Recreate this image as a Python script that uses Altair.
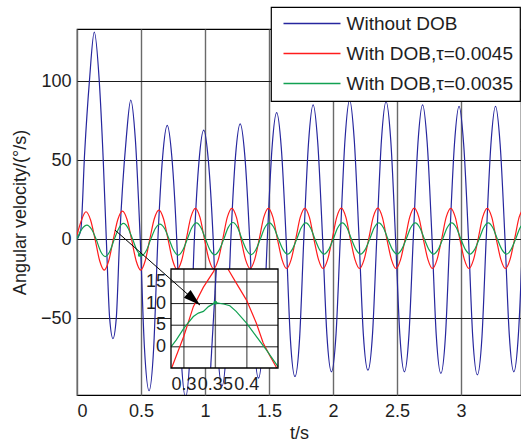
import altair as alt
import pandas as pd

SERIES = ["Without DOB", "With DOB,τ=0.0045", "With DOB,τ=0.0035"]
COLORS = ["#26269e", "#ff1c1c", "#12a152"]

X_DOMAIN = [0, 3.469]
Y_DOMAIN = [-98.7, 133]
X_TICKS = [0, 0.5, 1, 1.5, 2, 2.5, 3]
Y_TICKS = [-50, 0, 50, 100]

# ---- main series (time in s, angular velocity in deg/s) ----
blue_t = [0.000, 0.030, 0.060, 0.097, 0.135, 0.174, 0.205, 0.229, 0.255, 0.281, 0.307, 0.333,
          0.384, 0.420, 0.456, 0.494, 0.527, 0.563, 0.599, 0.632,
          0.669, 0.705, 0.741, 0.779, 0.812, 0.848, 0.884, 0.917,
          0.954, 0.990, 1.026, 1.064, 1.097, 1.133, 1.169, 1.202,
          1.239, 1.275, 1.311, 1.349, 1.382, 1.418, 1.454, 1.487,
          1.524, 1.560, 1.596, 1.634, 1.667, 1.703, 1.739, 1.772,
          1.809, 1.845, 1.881, 1.919, 1.952, 1.988, 2.024, 2.057,
          2.094, 2.130, 2.166, 2.204, 2.237, 2.273, 2.309, 2.342,
          2.379, 2.415, 2.451, 2.489, 2.522, 2.558, 2.594, 2.627,
          2.664, 2.700, 2.736, 2.774, 2.807, 2.843, 2.879, 2.912,
          2.949, 2.985, 3.021, 3.059, 3.092, 3.128, 3.164, 3.197,
          3.234, 3.270, 3.306, 3.344, 3.377, 3.413, 3.449, 3.482]
blue_v = [0, 6, 55, 100, 131, 100, 50, 0, -50, -63, -50, 0,
          63, 88, 63, 0, -69, -96, -69, 0,
          52, 72, 52, 0, -72, -100, -72, 0,
          50, 69, 50, 0, -67, -93, -67, 0,
          53, 73, 53, 0, -63, -88, -63, 0,
          58, 80, 58, 0, -63, -87, -63, 0,
          61, 85, 61, 0, -60, -84, -60, 0,
          63, 88, 63, 0, -60, -83, -60, 0,
          63, 87, 63, 0, -60, -84, -60, 0,
          61, 85, 61, 0, -61, -85, -61, 0,
          60, 84, 60, 0, -62, -86, -62, 0,
          60, 84, 60, 0, -60, -84, -60, 0]

red_t = [0.000, 0.035,
         0.070, 0.106, 0.141, 0.177, 0.2125, 0.248, 0.284, 0.319,
         0.355, 0.391, 0.426, 0.462, 0.4975, 0.533, 0.569, 0.604,
         0.640, 0.676, 0.711, 0.747, 0.7825, 0.818, 0.854, 0.889,
         0.925, 0.961, 0.996, 1.032, 1.0675, 1.103, 1.139, 1.174,
         1.210, 1.246, 1.281, 1.317, 1.3525, 1.388, 1.424, 1.459,
         1.495, 1.531, 1.566, 1.602, 1.6375, 1.673, 1.709, 1.744,
         1.780, 1.816, 1.851, 1.887, 1.9225, 1.958, 1.994, 2.029,
         2.065, 2.101, 2.136, 2.172, 2.2075, 2.243, 2.279, 2.314,
         2.350, 2.386, 2.421, 2.457, 2.4925, 2.528, 2.564, 2.599,
         2.635, 2.671, 2.706, 2.742, 2.7775, 2.813, 2.849, 2.884,
         2.920, 2.956, 2.991, 3.027, 3.0625, 3.098, 3.134, 3.169,
         3.205, 3.241, 3.276, 3.312, 3.3475, 3.383, 3.419, 3.454,
         3.490]
red_v = [2.5, 12.0,
         17.3, 12.1, 0, -13.7, -19.6, -13.7, 0, 12.4,
         17.7, 12.4, 0, -13.7, -19.6, -13.7, 0, 12.9,
         18.4, 12.9, 0, -13.4, -19.2, -13.4, 0, 13.7,
         19.5, 13.7, 0, -13.2, -18.8, -13.2, 0, 13.7,
         19.5, 13.7, 0, -13.0, -18.6, -13.0, 0, 13.7,
         19.5, 13.7, 0, -13.0, -18.6, -13.0, 0, 13.7,
         19.5, 13.7, 0, -13.0, -18.6, -13.0, 0, 13.7,
         19.6, 13.7, 0, -13.0, -18.6, -13.0, 0, 13.7,
         19.6, 13.7, 0, -13.0, -18.6, -13.0, 0, 13.7,
         19.6, 13.7, 0, -13.0, -18.6, -13.0, 0, 13.7,
         19.5, 13.7, 0, -13.0, -18.6, -13.0, 0, 13.7,
         19.5, 13.7, 0, -13.0, -18.6, -13.0, 0, 13.7,
         19.5]

green_t = [0.000, 0.039,
           0.078, 0.114, 0.149, 0.185, 0.2205, 0.256, 0.292, 0.327,
           0.363, 0.399, 0.434, 0.470, 0.5055, 0.541, 0.577, 0.612,
           0.648, 0.684, 0.719, 0.755, 0.7905, 0.826, 0.862, 0.897,
           0.933, 0.969, 1.004, 1.040, 1.0755, 1.111, 1.147, 1.182,
           1.218, 1.254, 1.289, 1.325, 1.3605, 1.396, 1.432, 1.467,
           1.503, 1.539, 1.574, 1.610, 1.6455, 1.681, 1.717, 1.752,
           1.788, 1.824, 1.859, 1.895, 1.9305, 1.966, 2.002, 2.037,
           2.073, 2.109, 2.144, 2.180, 2.2155, 2.251, 2.287, 2.322,
           2.358, 2.394, 2.429, 2.465, 2.5005, 2.536, 2.572, 2.607,
           2.643, 2.679, 2.714, 2.750, 2.7855, 2.821, 2.857, 2.892,
           2.928, 2.964, 2.999, 3.035, 3.0705, 3.106, 3.142, 3.177,
           3.213, 3.249, 3.284, 3.320, 3.3555, 3.391, 3.427, 3.462,
           3.498]
green_v = [0, 6.5,
           8.9, 6.2, 0, -7.8, -11.1, -7.8, 0, 6.9,
           9.9, 6.9, 0, -7.4, -10.5, -7.4, 0, 6.7,
           9.5, 6.7, 0, -7.1, -10.2, -7.1, 0, 7.2,
           10.3, 7.2, 0, -7.0, -10.0, -7.0, 0, 7.4,
           10.5, 7.4, 0, -6.9, -9.8, -6.9, 0, 7.2,
           10.3, 7.2, 0, -6.7, -9.6, -6.7, 0, 7.2,
           10.3, 7.2, 0, -6.7, -9.5, -6.7, 0, 7.2,
           10.3, 7.2, 0, -6.7, -9.5, -6.7, 0, 7.2,
           10.3, 7.2, 0, -6.7, -9.5, -6.7, 0, 7.2,
           10.3, 7.2, 0, -6.7, -9.5, -6.7, 0, 7.2,
           10.3, 7.2, 0, -6.7, -9.5, -6.7, 0, 7.2,
           10.3, 7.2, 0, -6.7, -9.5, -6.7, 0, 7.2,
           10.3]

# data-tip marker on the green curve
tip_t = [0.49]
tip_v = [-10.0]

# ---- inset (zoom of 0.28..0.45 s) ----
INSET_X = [0.2795, 0.4495]
INSET_Y = [-4.9, 18]
INSET_XTICKS = [0.3, 0.35, 0.4]
INSET_YTICKS = [0, 5, 10, 15]

in_blue_t = [0.3425, 0.3515]
in_blue_v = [-4.9, 18.0]
in_red_t = [0.2805, 0.300, 0.315, 0.331, 0.347, 0.349,
            0.370, 0.383, 0.3995, 0.415, 0.426, 0.437, 0.4475]
in_red_v = [-4.9, 2.5, 9.3, 13.8, 17.4, 18.0,
            18.0, 14.8, 10.8, 5.5, 0.9, -2.2, -4.9]
in_red_seg = [1, 1, 1, 1, 1, 1, 2, 2, 2, 2, 2, 2, 2]
in_green_t = [0.2795, 0.288, 0.300, 0.315, 0.323, 0.331, 0.339, 0.350, 0.363,
              0.373, 0.383, 0.3995, 0.415, 0.431, 0.442, 0.4495]
in_green_v = [0.0, 1.6, 4.3, 7.0, 7.8, 8.2, 9.3, 10.2, 9.9,
              9.5, 8.2, 5.5, 2.4, -0.7, -3.0, -4.6]
in_tip_t = [0.350]
in_tip_v = [10.2]

# ---- arrow annotation (main data coords) ----
arrow_t0, arrow_v0 = [0.297], [5.7]
arrow_t1, arrow_v1 = [0.961], [-41.8]

FONT = "Liberation Sans"
TXT = "#1e1e1e"

# ---------------- main panel ----------------
def sdf(t, v, name):
    return pd.DataFrame({"t": t, "v": v, "s": name})

x_main = alt.X("t:Q", scale=alt.Scale(domain=X_DOMAIN, nice=False, zero=False),
               axis=alt.Axis(values=X_TICKS, format="~g", title="t/s", grid=True,
                             gridColor="#6a6a6a", gridWidth=1.4,
                             labelPadding=7, titleY=38, titleBaseline="middle"))
y_main = alt.Y("v:Q", scale=alt.Scale(domain=Y_DOMAIN, nice=False, zero=False),
               axis=alt.Axis(values=Y_TICKS, format="d", title="Angular velocity/(°/s)",
                             grid=True, gridColor="#1a1a1a", gridWidth=1,
                             labelPadding=6, titleX=-57, titleY=183,
                             titleBaseline="middle", titleAlign="center"))
color = alt.Color("s:N", scale=alt.Scale(domain=SERIES, range=COLORS),
                  legend=alt.Legend(title=None, orient="none", legendX=194, legendY=-22))

def main_line(df):
    return alt.Chart(df).mark_line(clip=True, strokeWidth=1.2, interpolate="monotone").encode(
        x=x_main, y=y_main, color=color)

main = alt.layer(
    main_line(sdf(blue_t, blue_v, SERIES[0])),
    main_line(sdf(red_t, red_v, SERIES[1])),
    main_line(sdf(green_t, green_v, SERIES[2])),
    alt.Chart(pd.DataFrame({"t": tip_t, "v": tip_v})).mark_point(
        filled=True, size=14, color=COLORS[2], opacity=1).encode(x=x_main, y=y_main),
)

# ---------------- inset ----------------
ix_scale = alt.Scale(domain=INSET_X, range=[94, 201], nice=False, zero=False)
iy_scale = alt.Scale(domain=INSET_Y, range=[339, 240], nice=False, zero=False)

def ix(f):
    return alt.X(f, type="quantitative", scale=ix_scale, axis=None)

def iy(f):
    return alt.Y(f, type="quantitative", scale=iy_scale, axis=None)

box_df = pd.DataFrame({"x0": [INSET_X[0]], "x1": [INSET_X[1]],
                       "y0": [INSET_Y[0]], "y1": [INSET_Y[1]]})
vgrid_df = pd.DataFrame({"t": INSET_XTICKS, "y0": INSET_Y[0], "y1": INSET_Y[1]})
hgrid_df = pd.DataFrame({"v": INSET_YTICKS, "x0": INSET_X[0], "x1": INSET_X[1]})
xlab_df = pd.DataFrame({"t": INSET_XTICKS, "y0": INSET_Y[0]})
ylab_df = pd.DataFrame({"v": INSET_YTICKS, "x0": INSET_X[0]})

in_color = alt.Color("s:N", scale=alt.Scale(domain=SERIES, range=COLORS), legend=None)

inset = alt.layer(
    alt.Chart(box_df).mark_rect(fill="white", stroke=None).encode(
        x=ix("x0"), x2="x1", y=iy("y0"), y2="y1"),
    alt.Chart(vgrid_df).mark_rule(color="#6a6a6a", strokeWidth=1.4).encode(
        x=ix("t"), y=iy("y0"), y2="y1"),
    alt.Chart(hgrid_df).mark_rule(color="#1a1a1a", strokeWidth=1).encode(
        y=iy("v"), x=ix("x0"), x2="x1"),
    alt.Chart(sdf(in_blue_t, in_blue_v, SERIES[0])).mark_line(strokeWidth=1.2).encode(
        x=ix("t"), y=iy("v"), color=in_color),
    alt.Chart(pd.DataFrame({"t": in_red_t, "v": in_red_v, "g": in_red_seg, "s": SERIES[1]})
              ).mark_line(strokeWidth=1.2).encode(
        x=ix("t"), y=iy("v"), color=in_color, detail="g:N"),
    alt.Chart(sdf(in_green_t, in_green_v, SERIES[2])).mark_line(strokeWidth=1.2).encode(
        x=ix("t"), y=iy("v"), color=in_color),
    alt.Chart(pd.DataFrame({"t": in_tip_t, "v": in_tip_v})).mark_point(
        filled=True, size=14, color=COLORS[2], opacity=1).encode(x=ix("t"), y=iy("v")),
    alt.Chart(box_df).mark_rect(fillOpacity=0, stroke="black", strokeWidth=1.3).encode(
        x=ix("x0"), x2="x1", y=iy("y0"), y2="y1"),
    alt.Chart(xlab_df).mark_text(baseline="top", dy=8, fontSize=18, font=FONT, color=TXT).encode(
        x=ix("t"), y=iy("y0"), text=alt.Text("t:Q", format="~g")),
    alt.Chart(ylab_df).mark_text(align="right", baseline="middle", dx=-5, fontSize=18,
                                 font=FONT, color=TXT).encode(
        x=ix("x0"), y=iy("v"), text=alt.Text("v:Q", format="~g")),
)

# ---------------- arrow ----------------
ax_scale = alt.Scale(domain=X_DOMAIN, nice=False, zero=False)
ay_scale = alt.Scale(domain=Y_DOMAIN, nice=False, zero=False)
arrow_df = pd.DataFrame({"t0": arrow_t0, "v0": arrow_v0, "t1": arrow_t1, "v1": arrow_v1})
arrow = alt.layer(
    alt.Chart(arrow_df).mark_rule(color="black", strokeWidth=1).encode(
        x=alt.X("t0:Q", scale=ax_scale, axis=None), y=alt.Y("v0:Q", scale=ay_scale, axis=None),
        x2="t1", y2="v1"),
    alt.Chart(arrow_df).mark_point(shape="M0,0L-2,-0.6L-2,0.6Z", filled=True, size=289,
                                   angle=41.4, color="black", opacity=1).encode(
        x=alt.X("t1:Q", scale=ax_scale, axis=None), y=alt.Y("v1:Q", scale=ay_scale, axis=None)),
)

chart = alt.layer(main, inset, arrow).resolve_scale(
    x="independent", y="independent"
).properties(
    width=444, height=366,
    autosize=alt.AutoSizeParams(type="none"),
    padding={"left": 77, "top": 29, "right": 0, "bottom": 48},
).configure_view(
    stroke="black", strokeWidth=1.2
).configure_axis(
    ticks=False, domain=False, labelFont=FONT, labelFontSize=18, labelColor=TXT,
    titleFont=FONT, titleFontSize=18, titleFontWeight="normal", titleColor=TXT,
).configure_legend(
    labelFont=FONT, labelFontSize=19, labelColor=TXT, labelLimit=400,
    fillColor="white", strokeColor="black", strokeWidth=1.2, cornerRadius=0,
    padding=7, symbolType="M-9.5,0L9.5,0", symbolSize=36, symbolStrokeWidth=1.3,
    symbolOffset=24.5, labelOffset=25, rowPadding=10,
)

chart.save("out.html", embed_options={"renderer": "svg", "actions": False})
